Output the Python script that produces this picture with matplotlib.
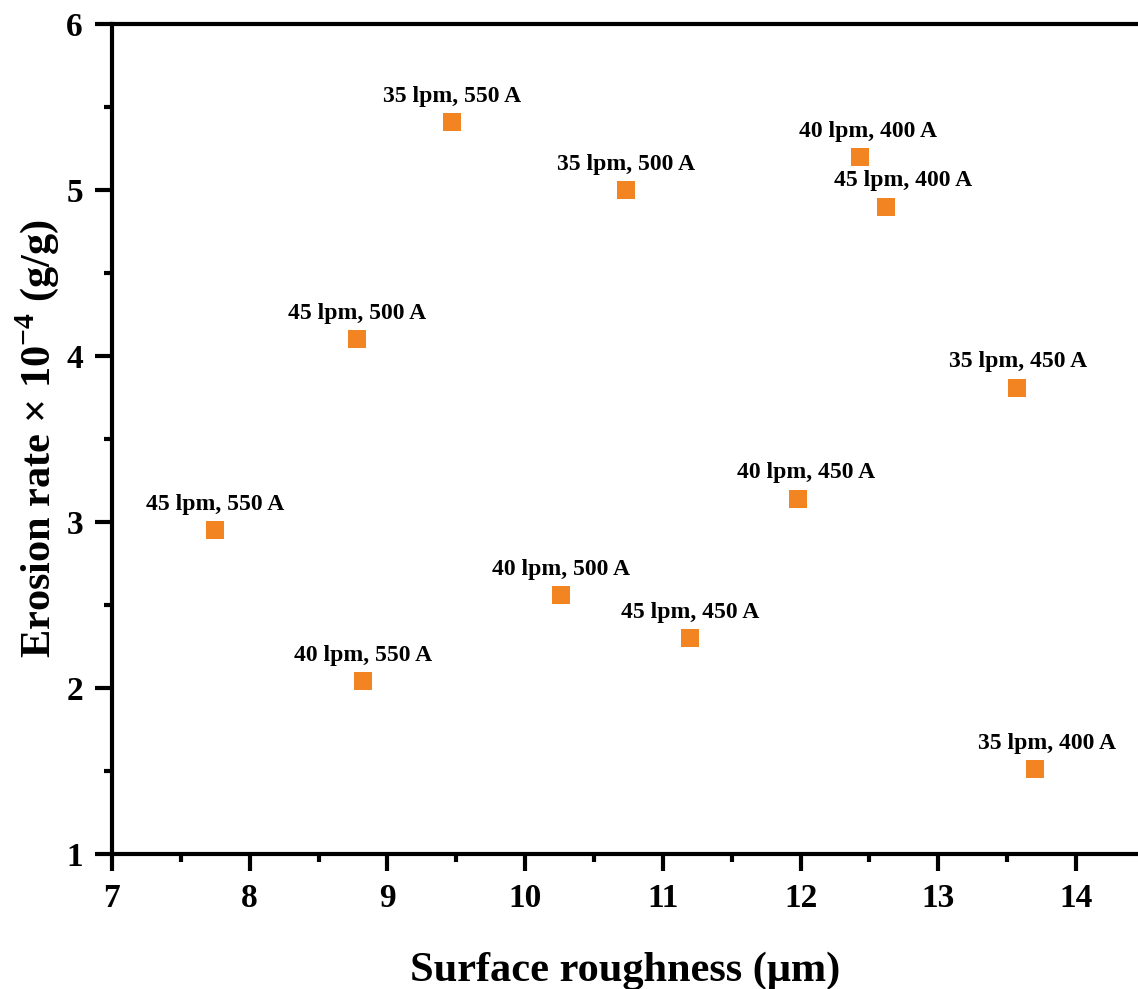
import matplotlib
matplotlib.use('Agg')

import matplotlib.pyplot as plt
from matplotlib.ticker import MultipleLocator

# surface roughness (um) vs erosion rate (x 1e-4 g/g)
roughness = [9.47, 10.73, 12.43, 12.62, 8.78, 13.57, 11.98, 7.75, 10.26, 11.20, 8.82, 13.70]
erosion = [5.41, 5.00, 5.20, 4.90, 4.10, 3.81, 3.14, 2.95, 2.56, 2.30, 2.04, 1.51]
labels = [
    '35 lpm, 550 A', '35 lpm, 500 A', '40 lpm, 400 A', '45 lpm, 400 A',
    '45 lpm, 500 A', '35 lpm, 450 A', '40 lpm, 450 A', '45 lpm, 550 A',
    '40 lpm, 500 A', '45 lpm, 450 A', '40 lpm, 550 A', '35 lpm, 400 A',
]
# small horizontal shifts of the labels (points)
label_dx = [0, 0, 6, 12, 0, 1, 6, 0, 0, 0, 0, 9]

plt.rcParams['font.family'] = 'Liberation Serif'
plt.rcParams['font.weight'] = 'bold'
plt.rcParams['mathtext.fontset'] = 'custom'
plt.rcParams['mathtext.rm'] = 'Liberation Serif:bold'
plt.rcParams['mathtext.bf'] = 'Liberation Serif:bold'

fig = plt.figure(figsize=(11.38, 9.89), dpi=100)
ax = fig.add_axes([0.0984, 0.1365, 0.9016, 0.8392])

ax.scatter(roughness, erosion, marker='s', s=150, color='#f28522', zorder=3, linewidths=0)

for x, y, txt, dx in zip(roughness, erosion, labels, label_dx):
    ax.annotate(txt, (x, y), xytext=(dx, 11), textcoords='offset points',
                ha='center', va='bottom', fontsize=17, fontweight='bold')

ax.set_xlim(7, 14.45)
ax.set_ylim(1, 6)
ax.xaxis.set_major_locator(MultipleLocator(1))
ax.xaxis.set_minor_locator(MultipleLocator(0.5))
ax.yaxis.set_major_locator(MultipleLocator(1))
ax.yaxis.set_minor_locator(MultipleLocator(0.5))

for side in ['left', 'bottom', 'top']:
    ax.spines[side].set_linewidth(3)
ax.spines['right'].set_visible(False)

ax.tick_params(which='major', direction='out', length=12, width=3, labelsize=24, pad=9)
ax.tick_params(which='minor', direction='out', length=6, width=3)
ax.tick_params(top=False, right=False, which='both')

ax.set_xlabel('Surface roughness (μm)', fontsize=30.5, fontweight='bold', labelpad=27)
ax.set_ylabel(r'Erosion rate $\times$ 10$^{-4}$ (g/g)', fontsize=30.5, fontweight='bold', labelpad=4)

fig.savefig('out.png', dpi=100)
